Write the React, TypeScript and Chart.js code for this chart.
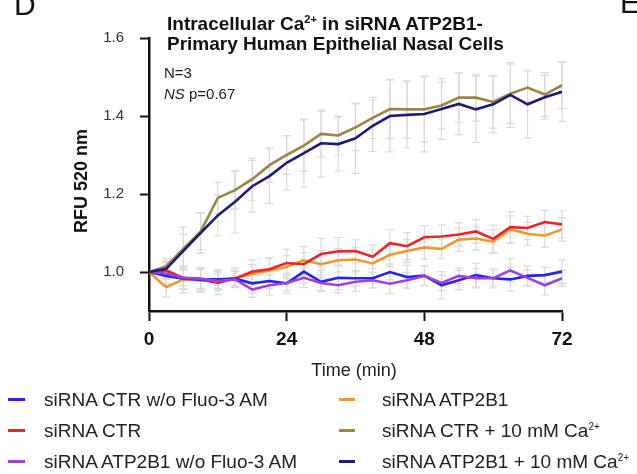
import React, { useEffect, useRef } from "react";
import { Chart, registerables } from "chart.js";

Chart.register(...registerables);

const FONT = '"Liberation Sans", Arial, Helvetica, sans-serif';

const times = [0, 3, 6, 9, 12, 15, 18, 21, 24, 27, 30, 33, 36, 39, 42, 45, 48, 51, 54, 57, 60, 63, 66, 69, 72];
const xTicks = [0, 24, 48, 72];
const yTicks = [1.0, 1.2, 1.4, 1.6];

const ctrNoFluo = [1.0, 0.99, 0.983, 0.981, 0.981, 0.983, 0.971, 0.977, 0.971, 1.001, 0.975, 0.985, 0.984, 0.984, 1.0, 0.987, 0.991, 0.966, 0.979, 0.992, 0.984, 0.981, 0.99, 0.992, 1.001];
const ctr = [1.0, 1.004, 0.985, 0.981, 0.972, 0.983, 1.001, 1.007, 1.023, 1.02, 1.046, 1.053, 1.054, 1.039, 1.074, 1.066, 1.089, 1.091, 1.096, 1.104, 1.085, 1.115, 1.113, 1.128, 1.122];
const atpNoFluo = [1.0, 0.996, 0.985, 0.983, 0.977, 0.981, 0.955, 0.966, 0.972, 0.985, 0.972, 0.966, 0.975, 0.979, 0.97, 0.979, 0.99, 0.972, 0.99, 0.984, 0.984, 1.004, 0.985, 0.966, 0.984];
const atp = [1.0, 0.961, 0.981, 0.978, 0.977, 0.985, 0.994, 1.004, 1.013, 1.03, 1.02, 1.03, 1.032, 1.022, 1.044, 1.054, 1.063, 1.059, 1.083, 1.086, 1.078, 1.109, 1.098, 1.093, 1.109];
const ctrCa = [1.0, 1.015, 1.06, 1.104, 1.19, 1.21, 1.238, 1.274, 1.3, 1.324, 1.354, 1.35, 1.371, 1.395, 1.418, 1.417, 1.417, 1.427, 1.447, 1.447, 1.436, 1.457, 1.473, 1.455, 1.479];
const atpCa = [1.0, 1.008, 1.054, 1.1, 1.145, 1.18, 1.22, 1.246, 1.28, 1.305, 1.33, 1.328, 1.343, 1.375, 1.4, 1.403, 1.405, 1.418, 1.431, 1.417, 1.43, 1.454, 1.43, 1.448, 1.462];

const errCtrNoFluo = [0, 0.02, 0.025, 0.025, 0.025, 0.02, 0.025, 0.02, 0.025, 0.03, 0.025, 0.03, 0.02, 0.025, 0.02, 0.03, 0.025, 0.035, 0.025, 0.03, 0.025, 0.03, 0.025, 0.02, 0.03];
const errCtr = [0, 0.02, 0.03, 0.03, 0.03, 0.02, 0.03, 0.03, 0.035, 0.03, 0.04, 0.035, 0.03, 0.03, 0.035, 0.035, 0.03, 0.03, 0.03, 0.03, 0.035, 0.04, 0.03, 0.03, 0.035];
const errAtpNoFluo = [0, 0.015, 0.02, 0.025, 0.02, 0.02, 0.02, 0.025, 0.02, 0.025, 0.02, 0.02, 0.025, 0.02, 0.025, 0.02, 0.025, 0.02, 0.02, 0.025, 0.02, 0.03, 0.02, 0.025, 0.02];
const errAtp = [0, 0.025, 0.035, 0.03, 0.025, 0.025, 0.025, 0.03, 0.03, 0.035, 0.035, 0.03, 0.03, 0.035, 0.03, 0.03, 0.03, 0.025, 0.03, 0.03, 0.03, 0.035, 0.03, 0.03, 0.03];
const errCtrCa = [0, 0.02, 0.055, 0.047, 0.04, 0.049, 0.054, 0.044, 0.049, 0.066, 0.058, 0.05, 0.06, 0.053, 0.076, 0.073, 0.084, 0.06, 0.063, 0.06, 0.067, 0.076, 0.043, 0.056, 0.06];
const errAtpCa = [0, 0.02, 0.043, 0.052, 0.052, 0.08, 0.066, 0.07, 0.07, 0.087, 0.086, 0.069, 0.09, 0.066, 0.092, 0.085, 0.097, 0.078, 0.079, 0.085, 0.073, 0.083, 0.086, 0.056, 0.076];

const series = [
  { label: "siRNA CTR w/o Fluo-3 AM", values: ctrNoFluo, errors: errCtrNoFluo, color: "#2424ee", order: 3 },
  { label: "siRNA CTR", values: ctr, errors: errCtr, color: "#e8262a", order: 4 },
  { label: "siRNA ATP2B1 w/o Fluo-3 AM", values: atpNoFluo, errors: errAtpNoFluo, color: "#a040dc", order: 2 },
  { label: "siRNA ATP2B1", values: atp, errors: errAtp, color: "#f0982e", order: 5 },
  { label: "siRNA CTR + 10 mM Ca", values: ctrCa, errors: errCtrCa, color: "#9a8548", order: 1, sup: "2+" },
  { label: "siRNA ATP2B1 + 10 mM Ca", values: atpCa, errors: errAtpCa, color: "#1c1c7c", order: 0, sup: "2+" },
];

const errorBarPlugin = {
  id: "errorBars",
  beforeDatasetsDraw(chart: any) {
    const { ctx, scales } = chart;
    const xs = scales.x;
    const ys = scales.y;
    ctx.save();
    ctx.strokeStyle = "#dadada";
    ctx.lineWidth = 1.2;
    chart.data.datasets.forEach((ds: any) => {
      const errs: number[] = ds.errors || [];
      ds.data.forEach((p: any, i: number) => {
        const e = errs[i];
        if (!e) return;
        const x = xs.getPixelForValue(p.x);
        const y1 = ys.getPixelForValue(p.y + e);
        const y2 = ys.getPixelForValue(p.y - e);
        ctx.beginPath();
        ctx.moveTo(x, y1);
        ctx.lineTo(x, y2);
        ctx.moveTo(x - 4, y1);
        ctx.lineTo(x + 4, y1);
        ctx.moveTo(x - 4, y2);
        ctx.lineTo(x + 4, y2);
        ctx.stroke();
      });
    });
    ctx.restore();
  },
};

const abs = (o: React.CSSProperties): React.CSSProperties => ({ position: "absolute", whiteSpace: "nowrap", ...o });

export default function App() {
  const ref = useRef<HTMLCanvasElement | null>(null);

  useEffect(() => {
    if (!ref.current) return;
    const chart = new Chart(ref.current, {
      type: "line",
      data: {
        datasets: series.map((s) => ({
          label: s.label,
          data: times.map((t, i) => ({ x: t, y: s.values[i] })),
          errors: s.errors,
          borderColor: s.color,
          backgroundColor: s.color,
          borderWidth: 2.6,
          pointRadius: 0,
          tension: 0,
          fill: false,
          order: s.order,
        })) as any,
      },
      options: {
        animation: false,
        responsive: false,
        devicePixelRatio: 1,
        layout: { padding: { top: 38, right: 75, left: 0, bottom: 0 } },
        plugins: { legend: { display: false }, title: { display: false }, tooltip: { enabled: false } },
        scales: {
          x: {
            type: "linear",
            min: 0,
            max: 72,
            afterBuildTicks: (s: any) => {
              s.ticks = xTicks.map((v) => ({ value: v }));
            },
            afterFit: (s: any) => {
              s.height = 474 - 311;
            },
            ticks: {
              autoSkip: false,
              maxRotation: 0,
              padding: 7,
              color: "#111",
              font: { family: FONT, size: 19, weight: "bold" },
            },
            grid: { display: true, drawOnChartArea: false, drawTicks: true, tickLength: 10, tickWidth: 2, tickColor: "#111" },
            border: { display: true, color: "#111", width: 2.5 },
          },
          y: {
            type: "linear",
            min: 0.9,
            max: 1.6,
            afterBuildTicks: (s: any) => {
              s.ticks = yTicks.map((v) => ({ value: v }));
            },
            afterFit: (s: any) => {
              s.width = 149;
            },
            ticks: {
              padding: 16,
              color: "#333",
              font: { family: FONT, size: 15 },
              callback: (v: any) => Number(v).toFixed(1),
            },
            grid: { display: true, drawOnChartArea: false, drawTicks: true, tickLength: 9, tickWidth: 2, tickColor: "#111" },
            border: { display: true, color: "#111", width: 2.5 },
          },
        },
      } as any,
      plugins: [errorBarPlugin],
    });
    return () => chart.destroy();
  }, []);

  const legendLeft = series.slice(0, 3);
  const legendRight = series.slice(3);
  const rowTops = [390, 421, 452];

  return (
    <div style={{ position: "absolute", left: 0, top: 0, width: 637, height: 474, overflow: "hidden", background: "#fff", fontFamily: FONT, color: "#111" }}>
      <canvas ref={ref} width={637} height={474} style={{ position: "absolute", left: 0, top: 0, width: 637, height: 474 }} />
      <div style={abs({ left: 14, top: -10, fontSize: 30, lineHeight: "30px" })}>D</div>
      <div style={abs({ left: 620, top: -12, fontSize: 30, lineHeight: "30px" })}>E</div>
      <div style={abs({ left: 167, top: 14, fontSize: 19, lineHeight: "20px", fontWeight: "bold" })}>
        <div>
          Intracellular Ca<sup style={{ fontSize: 11, lineHeight: 0, verticalAlign: "7px" }}>2+</sup> in siRNA ATP2B1-
        </div>
        <div>Primary Human Epithelial Nasal Cells</div>
      </div>
      <div style={abs({ left: 164, top: 62, fontSize: 15, lineHeight: "21px", color: "#222" })}>
        <div>N=3</div>
        <div>
          <i>NS</i> p=0.67
        </div>
      </div>
      <div
        style={abs({
          left: -19,
          top: 171,
          width: 200,
          height: 20,
          lineHeight: "20px",
          textAlign: "center",
          fontSize: 18,
          fontWeight: "bold",
          transform: "rotate(-90deg)",
          transformOrigin: "50% 50%",
        })}
      >
        RFU 520 nm
      </div>
      <div style={abs({ left: 254, top: 360, width: 200, textAlign: "center", fontSize: 18, lineHeight: "20px", color: "#222" })}>Time (min)</div>
      {legendLeft.map((s, i) => (
        <React.Fragment key={s.label}>
          <div style={abs({ left: 8, top: rowTops[i] + 8, width: 17, height: 3, background: s.color })} />
          <div style={abs({ left: 44, top: rowTops[i], fontSize: 19, lineHeight: "20px", color: "#222" })}>{s.label}</div>
        </React.Fragment>
      ))}
      {legendRight.map((s, i) => (
        <React.Fragment key={s.label}>
          <div style={abs({ left: 339, top: rowTops[i] + 8, width: 16, height: 3, background: s.color })} />
          <div style={abs({ left: 382, top: rowTops[i], fontSize: 19, lineHeight: "20px", color: "#222" })}>
            {s.label}
            {s.sup ? <sup style={{ fontSize: 10, lineHeight: 0, verticalAlign: "7px" }}>{s.sup}</sup> : null}
          </div>
        </React.Fragment>
      ))}
    </div>
  );
}
